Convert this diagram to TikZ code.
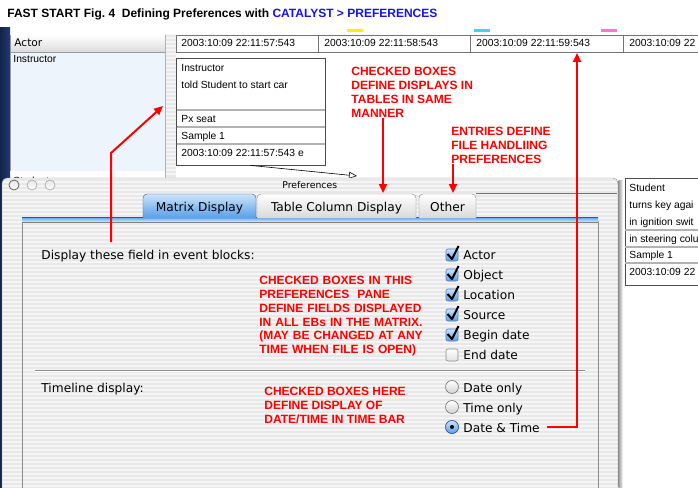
\documentclass[tikz,border=0pt]{standalone}
\usepackage{fontspec}
\setmainfont{DejaVu Sans}
\newfontfamily\cellfont{Liberation Sans}

\definecolor{notered}{RGB}{255,0,0}
\definecolor{menublue}{RGB}{20,20,235}
\definecolor{deskblue}{RGB}{30,58,120}
\definecolor{panelblue}{RGB}{238,244,252}
\definecolor{stripebase}{RGB}{232,232,232}
\definecolor{stripelight}{RGB}{245,245,245}
\definecolor{ebgray}{RGB}{178,178,178}
\definecolor{aquablue}{RGB}{88,158,232}
\definecolor{aqualight}{RGB}{204,228,250}
\definecolor{aquaedge}{RGB}{40,88,168}
\definecolor{markyellow}{RGB}{255,240,0}
\definecolor{markcyan}{RGB}{60,215,245}
\definecolor{markpink}{RGB}{245,120,215}

\tikzset{
  uilabel/.style={font=\fontsize{12.2}{15}\selectfont, inner sep=0pt, anchor=base west},
  celllabel/.style={font=\cellfont\fontsize{10.3}{12}\selectfont, inner sep=0pt, anchor=base west},
  notelabel/.style={font=\cellfont\bfseries\fontsize{12}{13.8}\selectfont, text=notered, inner sep=0pt, anchor=north west, align=left},
  notearrow/.style={draw=notered, line width=2pt, -{Triangle[length=9pt,width=8pt]}},
  linkarrow/.style={draw=black, line width=0.6pt, -{Triangle[open,length=8pt,width=7pt]}},
  ebbox/.style={draw=black!70, line width=0.8pt, fill=white, inner sep=0pt},
  ebrule/.style={draw=ebgray, line width=2pt},
  striped/.style={fill=stripebase, postaction={pattern=pinstripe, pattern color=stripelight}},
  tabidle/.style={draw=black!50, top color=white, bottom color=black!15, rounded corners=4pt},
  tabactive/.style={draw=aquaedge, top color=aqualight, bottom color=aquablue, rounded corners=4pt},
  tickbox/.style={draw=aquaedge!80, top color=aqualight, bottom color=aquablue, rounded corners=2pt, line width=0.6pt},
  emptybox/.style={draw=black!45, top color=white, bottom color=black!12, rounded corners=2pt, line width=0.6pt},
  radiobtn/.style={draw=black!55, top color=white, bottom color=black!18, line width=0.6pt},
}

\begin{document}
\begin{tikzpicture}[x=1pt,y=-1pt]
	\usetikzlibrary{arrows.meta,patterns}
	\pgfdeclarepatternformonly{pinstripe}{\pgfpoint{-1pt}{-1pt}}{\pgfpoint{101pt}{5pt}}{\pgfpoint{100pt}{4pt}}{
		\pgfpathrectangle{\pgfpointorigin}{\pgfpoint{100pt}{2pt}}\pgfusepath{fill}
	}
	\useasboundingbox (0,0) rectangle (698,487);
	\begin{scope}
		\clip (0,0) rectangle (698,487);
		\fill[white] (0,0) rectangle (698,487);

		% heading
		\node[font=\cellfont\bfseries\fontsize{12}{14}\selectfont, inner sep=0pt, anchor=base west] (heading) at (7,18)
			{\frenchspacing FAST START Fig. 4\ \ Defining Preferences with \textcolor{menublue}{CATALYST > PREFERENCES}};

		% desktop and actor column
		\shade[left color=deskblue!60!black, right color=deskblue] (0,28) rectangle (10,487);
		\fill[panelblue] (10,52) rectangle (165,171);
		\shade[top color=white, bottom color=black!14] (10,35) rectangle (165,52);
		\draw[black!40] (10,52) -- (165,52) (10,35) -- (10,171);
		\path[striped] (165,35) rectangle (176,180);
		\draw[black!30] (165,35) -- (165,180);
		\node[uilabel, font=\fontsize{10.6}{13}\selectfont] (actorhead) at (14,47) {Actor};
		\node[celllabel] (actorone) at (13,63) {Instructor};
		\node[celllabel] (actortwo) at (13,184) {Student};

		% time bar
		\fill[markyellow] (347,29) rectangle (363,32);
		\fill[markcyan] (474,29) rectangle (490,32);
		\fill[markpink] (601,29) rectangle (617,32);
		\draw[black!55] (176,35) rectangle (702,52);
		\foreach \x in {318,470,623}
			\draw[black!55] (\x,35) -- (\x,52);
		\node[celllabel] (timeone) at (181,46) {2003:10:09 22:11:57:543};
		\node[celllabel] (timetwo) at (324,46) {2003:10:09 22:11:58:543};
		\node[celllabel] (timethree) at (476,46) {2003:10:09 22:11:59:543};
		\node[celllabel] (timefour) at (629,46) {2003:10:09 22};
		\coordinate (timetip) at (577,53);

		% instructor event block
		\node[ebbox, minimum width=149pt, minimum height=107pt] (ebone) at (250.5,111.5) {};
		\foreach \y in {110,127,144}
			\draw[ebrule] (176.5,\y) -- (324.5,\y);
		\node[celllabel] (ebactor) at (181,71) {Instructor};
		\node[celllabel] (ebobject) at (181,88) {told Student to start car};
		\node[celllabel] (eblocation) at (181,122) {Px seat};
		\node[celllabel] (ebsource) at (181,139) {Sample 1};
		\node[celllabel] (ebdate) at (181,156) {2003:10:09 22:11:57:543 e};
		\coordinate (linkend) at (357,176);
		\draw[linkarrow] (ebone.south) -- (linkend);

		% notes above the window
		\node[notelabel] (tablenote) at (351,67) {CHECKED BOXES\\DEFINE DISPLAYS IN\\TABLES IN SAME\\MANNER};
		\node[notelabel] (filenote) at (451,127) {ENTRIES DEFINE\\FILE HANDLIING\\PREFERENCES};

		% preferences window
		\path[striped, rounded corners=5pt] (2,492) -- (2,178) -- (618,178) -- (618,492);
		\draw[black!45, rounded corners=5pt] (2,492) -- (2,178) -- (618,178) -- (618,492);
		\shade[left color=black!40, right color=white] (618.5,180) rectangle (623,487);
		\foreach \x/\c in {14/60,32/30,50/30}
			\draw[draw=black!\c, top color=black!10, bottom color=white, line width=0.8pt] (\x,185) circle (5pt);
		\node[font=\fontsize{9.3}{11}\selectfont, inner sep=0pt, anchor=base west] (wintitle) at (282,188) {Preferences};
		\draw[black!55] (476,193) -- (617,193);

		% pane
		\path[striped] (22,221) rectangle (598,492);
		\draw[black!45] (22,492) -- (22,221) -- (598,221) -- (598,492);
		\shade[top color=aquablue, bottom color=aqualight] (22,217) rectangle (598,221.5);
		\draw[aquaedge] (22,217) -- (598,217);
		\draw[black!50] (22,222) -- (598,222);

		% tabs
		\path[tabactive] (143,218) -- (143,194) -- (256,194) -- (256,218);
		\path[tabidle] (257,218) -- (257,194) -- (416,194) -- (416,218);
		\path[tabidle] (419,218) -- (419,194) -- (476,194) -- (476,218);
		\node[uilabel, anchor=base] (tabmatrix) at (199.5,211) {Matrix Display};
		\node[uilabel, anchor=base] (tabcolumn) at (336.5,211) {Table Column Display};
		\node[uilabel, anchor=base] (tabother) at (447.5,211) {Other};
		\coordinate (columntop) at (383,193);
		\coordinate (othertop) at (453,193);

		% event block fields
		\node[uilabel] (displaylabel) at (41,259) {Display these field in event blocks:};
		\foreach \lbl [count=\i] in {Actor,Object,Location,Source,Begin date}{
			\path[tickbox] (446,{229+20*\i}) rectangle ++(12,12);
			\draw[line width=2pt, line join=round] (447.5,{234+20*\i}) -- (452,{239+20*\i}) -- (458.5,{226+20*\i});
			\node[uilabel] (field\i) at (463,{239+20*\i}) {\lbl};
		}
		\path[emptybox] (446,349) rectangle ++(12,12);
		\node[uilabel] (field6) at (463,359) {End date};
		\node[notelabel, text width=200pt] (panenote) at (259,276) {CHECKED BOXES IN THIS\\PREFERENCES\ \ PANE\\DEFINE FIELDS DISPLAYED\\IN ALL EBs IN THE MATRIX.\\(MAY BE CHANGED AT ANY\\TIME WHEN FILE IS OPEN)};

		\draw[black!45] (35,370) -- (585,370);
		\draw[white] (35,371) -- (585,371);

		% timeline display
		\node[uilabel] (timelabel) at (41,392) {Timeline display:};
		\foreach \lbl [count=\i] in {Date only,Time only,Date \& Time}{
			\path[radiobtn] (452,{367+20*\i}) circle (6.5pt);
			\node[uilabel] (radio\i) at (463,{372+20*\i}) {\lbl};
		}
		\path[draw=aquaedge, top color=aqualight, bottom color=aquablue, line width=0.6pt] (452,427) circle (6.5pt);
		\fill[black] (452,427) circle (2pt);
		\node[notelabel] (timenote) at (264,387) {CHECKED BOXES HERE\\DEFINE DISPLAY OF\\DATE/TIME IN TIME BAR};

		% student event block
		\node[ebbox, minimum width=90pt, minimum height=107pt, anchor=north west] (ebtwo) at (624.5,178) {};
		\foreach \y in {230,247,263}
			\draw[ebrule] (625,\y) -- (700,\y);
		\node[celllabel] (ebtwoactor) at (629,191) {Student};
		\node[celllabel] (ebtwoobject) at (629,208) {turns key agai};
		\node[celllabel] (ebtwomore) at (629,225) {in ignition swit};
		\node[celllabel] (ebtwolocation) at (629,242) {in steering colu};
		\node[celllabel] (ebtwosource) at (629,258) {Sample 1};
		\node[celllabel] (ebtwodate) at (629,275) {2003:10:09 22};

		% red pointers
		\coordinate (panefoot) at (111,242);
		\coordinate (bendpt) at (111,153);
		\coordinate (blocktip) at (163,106);
		\draw[notearrow] (panefoot) -- (bendpt) -- (blocktip);
		\draw[notearrow] (tablenote.south west -| columntop) -- (columntop);
		\draw[notearrow] (filenote.south west -| othertop) -- (othertop);
		\draw[notearrow] ([xshift=7pt]radio3.east) -| (timetip);
	\end{scope}
\end{tikzpicture}
\end{document}
